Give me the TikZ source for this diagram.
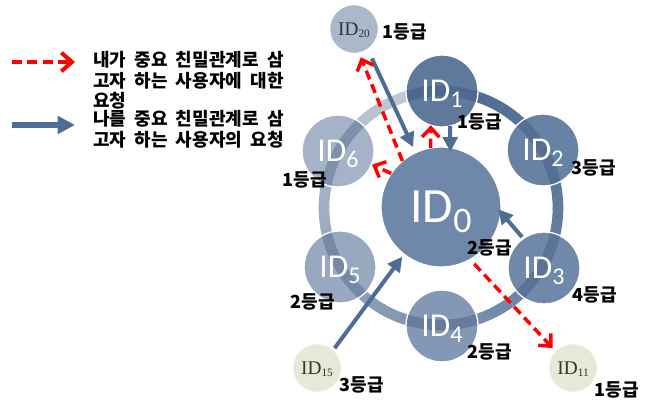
\documentclass[tikz,border=0pt]{standalone}
\usepackage{fontspec}
\newfontfamily\kr[WordSpace=2]{Noto Sans CJK KR}
\newfontfamily\idfont{Carlito}
\newfontfamily\serfont{Liberation Serif}
\usetikzlibrary{arrows.meta}
\definecolor{ringdark}{HTML}{4D6B93}
\definecolor{ringlight}{HTML}{C8D0DB}
\definecolor{ringshade}{HTML}{2F4A70}
\definecolor{arrowblue}{HTML}{4E6D94}
\definecolor{cz}{HTML}{6F87A8}
\definecolor{ca}{HTML}{5F799D}
\definecolor{cb}{HTML}{6882A5}
\definecolor{cc}{HTML}{7088AA}
\definecolor{cd}{HTML}{8497B5}
\definecolor{ce}{HTML}{97A8C0}
\definecolor{cf}{HTML}{A5B3C8}
\definecolor{cg}{HTML}{A9B8CB}
\definecolor{ch}{HTML}{E5EAD8}
\definecolor{idgray}{HTML}{333333}
\tikzset{
  circ/.style={circle, draw=white, line width=1pt, inner sep=0pt, outer sep=0pt},
  small circ/.style={circ, minimum size=54pt},
  tiny circ/.style={circ, minimum size=36.75pt},
  idtxt/.style={inner sep=0pt, text=white, font=\idfont\fontsize{25}{25}\selectfont},
  bigidtxt/.style={inner sep=0pt, text=white, font=\idfont\fontsize{37}{37}\selectfont},
  seridtxt/.style={inner sep=0pt, text=idgray, font=\serfont\fontsize{14.5}{14.5}\selectfont},
  grade/.style={inner sep=0pt, text=black, font=\kr\bfseries\fontsize{13.5}{13.5}\selectfont},
  legendtxt/.style={inner sep=0pt, text=black, align=left, font=\kr\bfseries\fontsize{13.5}{15.5}\selectfont},
  blue arrow/.style={draw=arrowblue, line width=3pt, -{Triangle[length=11pt,width=11pt]}},
  red arrow/.style={draw=red, line width=2.6pt, dash pattern=on 7pt off 4pt, -{Straight Barb[length=7pt,width=13pt,line width=2.6pt]}},
}
\begin{document}
\begin{tikzpicture}[x=0.75pt,y=-0.75pt]
\useasboundingbox (0,0) rectangle (656,403);
\coordinate (hub) at (441,208);
% gradient ring
\foreach \i in {0,...,71}{
  \pgfmathsetmacro\f{\i/71}
  \pgfmathsetmacro\p{100*(0.55*\f+0.45*\f*\f)}
  \draw[line width=8pt, color=ringlight!\p!ringdark] (hub) ++(-90+5*\i:117) arc[start angle=-90+5*\i, end angle=-84.5+5*\i, radius=117];
}
% circles
\node[circ, minimum size=90pt, fill=cz] (n0) at (441,207) {};
\node[small circ, fill=ca] (n1) at (442,91) {};
\node[small circ, fill=cb] (n2) at (543,150) {};
\node[small circ, fill=cc] (n3) at (544,268) {};
\node[small circ, fill=cd] (n4) at (442,326) {};
\node[small circ, fill=ce] (n5) at (340,267) {};
\node[small circ, fill=cf] (n6) at (338,151) {};
\node[tiny circ, fill=cg] (n20) at (354,29) {};
\node[tiny circ, fill=ch] (n15) at (317,368) {};
\node[tiny circ, fill=ch] (n11) at (573,368) {};
% ring seen through circles
\begin{scope}
  \clip (n1.center) circle[radius=35.3] (n2.center) circle[radius=35.3]
        (n3.center) circle[radius=35.3] (n4.center) circle[radius=35.3]
        (n5.center) circle[radius=35.3] (n6.center) circle[radius=35.3];
  \draw[line width=8pt, draw=ringshade, opacity=0.33] (hub) circle[radius=117];
\end{scope}
% id texts
\node[bigidtxt] (t0) at (n0) {ID\smash{\raisebox{-7.5pt}{\fontsize{27}{27}\selectfont 0}}};
\node[idtxt] (t1) at (n1) {ID\smash{\raisebox{-4.5pt}{\fontsize{18}{18}\selectfont 1}}};
\node[idtxt] (t2) at (n2) {ID\smash{\raisebox{-4.5pt}{\fontsize{18}{18}\selectfont 2}}};
\node[idtxt] (t3) at (n3) {ID\smash{\raisebox{-4.5pt}{\fontsize{18}{18}\selectfont 3}}};
\node[idtxt] (t4) at (n4) {ID\smash{\raisebox{-4.5pt}{\fontsize{18}{18}\selectfont 4}}};
\node[idtxt] (t5) at (n5) {ID\smash{\raisebox{-4.5pt}{\fontsize{18}{18}\selectfont 5}}};
\node[idtxt] (t6) at (n6) {ID\smash{\raisebox{-4.5pt}{\fontsize{18}{18}\selectfont 6}}};
\node[seridtxt] (t20) at (n20) {ID\smash{\raisebox{-2pt}{\fontsize{8.5}{8.5}\selectfont 20}}};
\node[seridtxt] (t15) at (n15) {ID\smash{\raisebox{-2pt}{\fontsize{8.5}{8.5}\selectfont 15}}};
\node[seridtxt] (t11) at (n11) {ID\smash{\raisebox{-2pt}{\fontsize{8.5}{8.5}\selectfont 11}}};
% grade labels
\node[grade] (g20) at (405,32) {1등급};
\node[grade] (g1) at (480,122) {1등급};
\node[grade] (g2) at (594,168) {3등급};
\node[grade] (g0) at (490,248) {2등급};
\node[grade] (g3) at (595,295) {4등급};
\node[grade] (g4) at (490,352) {2등급};
\node[grade] (g5) at (313,302) {2등급};
\node[grade] (g6) at (305,180) {1등급};
\node[grade] (g15) at (362,385) {3등급};
\node[grade] (g11) at (617,390) {1등급};
% arrows
\draw[blue arrow, shorten <=7.5pt, shorten >=4.5pt] (n20.-56) -- (n0.115);
\draw[blue arrow, shorten >=-3pt] (n1.-77) -- (n0.81);
\draw[blue arrow, shorten <=1.5pt, shorten >=-3pt] (n3.125) -- (n0.-5);
\draw[blue arrow, shorten <=1.5pt, shorten >=2.25pt] (n15.48) -- (n0.232);
\draw[red arrow, shorten >=3.5pt] (n0.130) -- (n20.-78);
\draw[red arrow] (n0.100) -- (n1.-108);
\draw[red arrow, shorten >=0.5pt] (n0.146) -- (n6.-22);
\draw[red arrow, shorten <=4.5pt, shorten >=3pt] (n0.-61) -- (n11.136);
% legend
\coordinate (lr1) at (12,62);
\coordinate (lr2) at (75,62);
\coordinate (lb1) at (12,125);
\coordinate (lb2) at (75,125);
\draw[draw=red, line width=3pt, dash pattern=on 7.5pt off 4pt, -{Straight Barb[length=8pt,width=14pt,line width=3pt]}] (lr1) -- (lr2);
\draw[draw=arrowblue, line width=4.5pt, -{Triangle[length=13pt,width=13pt]}] (lb1) -- (lb2);
\node[legendtxt, anchor=west] (leg1) at (93,80.5) {내가 중요 친밀관계로 삼\\고자 하는 사용자에 대한\\요청};
\node[legendtxt, anchor=west] (leg2) at (93,129) {나를 중요 친밀관계로 삼\\고자 하는 사용자의 요청};
\end{tikzpicture}
\end{document}
